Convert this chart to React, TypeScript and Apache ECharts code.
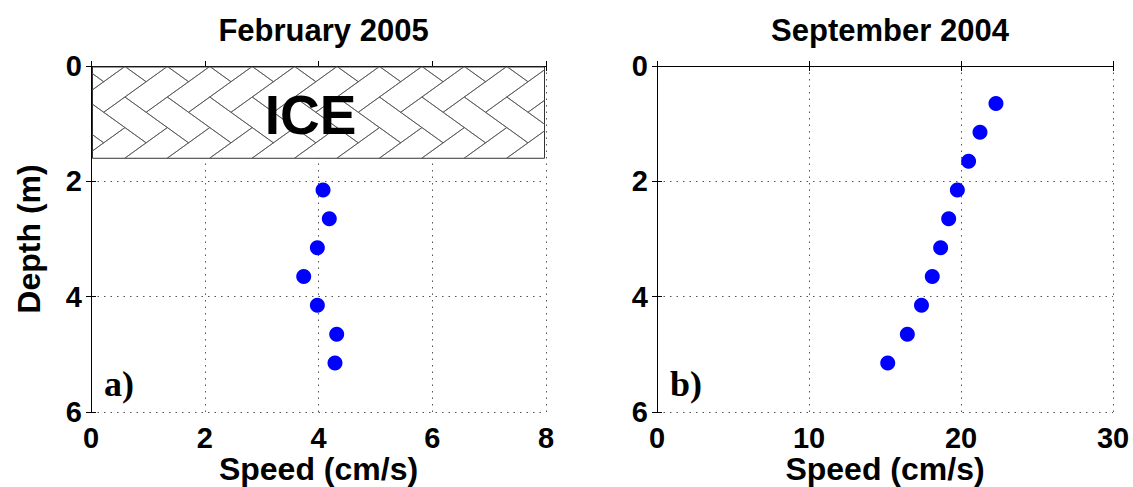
import React, { useEffect, useRef } from "react";
import * as echarts from "echarts";

const febDepth = [2.15, 2.65, 3.15, 3.65, 4.15, 4.65, 5.15];
const febSpeed = [4.08, 4.19, 3.98, 3.74, 3.98, 4.32, 4.29];
const sepDepth = [0.65, 1.15, 1.65, 2.15, 2.65, 3.15, 3.65, 4.15, 4.65, 5.15];
const sepSpeed = [22.3, 21.25, 20.5, 19.76, 19.19, 18.66, 18.11, 17.4, 16.47, 15.18];
const iceBand = [[0, 0, 8, 1.6]];
const titles = ["February 2005", "September 2004"];
const panelLabels = ["a)", "b)"];
const xNames = ["Speed (cm/s)", "Speed (cm/s)"];

const FONT = "'Liberation Sans', Arial, Helvetica, sans-serif";
const SERIF = "'Liberation Serif', 'Times New Roman', serif";

function clipSeg(x1: number, y1: number, x2: number, y2: number, xmin: number, ymin: number, xmax: number, ymax: number) {
  let t0 = 0, t1 = 1;
  const dx = x2 - x1, dy = y2 - y1;
  const p = [-dx, dx, -dy, dy];
  const q = [x1 - xmin, xmax - x1, y1 - ymin, ymax - y1];
  for (let i = 0; i < 4; i++) {
    if (p[i] === 0) {
      if (q[i] < 0) return null;
    } else {
      const t = q[i] / p[i];
      if (p[i] < 0) { if (t > t1) return null; if (t > t0) t0 = t; }
      else { if (t < t0) return null; if (t < t1) t1 = t; }
    }
  }
  return [x1 + t0 * dx, y1 + t0 * dy, x1 + t1 * dx, y1 + t1 * dy];
}

function renderIce(params: any, api: any) {
  const a = api.coord([api.value(0), api.value(1)]);
  const b = api.coord([api.value(2), api.value(3)]);
  const xmin = Math.min(a[0], b[0]) + 1.5, xmax = Math.max(a[0], b[0]) - 1.5;
  const ymin = Math.min(a[1], b[1]) + 1, ymax = Math.max(a[1], b[1]);
  const s = 30, k = 0.72, r2 = Math.SQRT2;
  const ox = xmin - 10, oy = ymin + 30;
  const tf = (u: number, v: number) => [ox + ((u + v) / r2) * s, oy + ((v - u) / r2) * s * k];
  const children: any[] = [
    { type: "rect", shape: { x: xmin, y: ymin, width: xmax - xmin, height: ymax - ymin }, style: { fill: "#fff", stroke: "#333", lineWidth: 1 } },
  ];
  const bricks: number[][] = [];
  for (let i = -25; i <= 25; i++) {
    for (let j = -10; j <= 10; j++) {
      const tx = i + 2 * j, ty = i - 2 * j;
      bricks.push([tx, ty, tx + 2, ty + 1]);
      bricks.push([tx, ty + 1, tx + 1, ty + 3]);
    }
  }
  for (const [u0, v0, u1, v1] of bricks) {
    const corners = [tf(u0, v0), tf(u1, v0), tf(u1, v1), tf(u0, v1)];
    for (let c = 0; c < 4; c++) {
      const p = corners[c], q = corners[(c + 1) % 4];
      const seg = clipSeg(p[0], p[1], q[0], q[1], xmin, ymin, xmax, ymax);
      if (seg && (Math.abs(seg[2] - seg[0]) + Math.abs(seg[3] - seg[1]) > 0.5)) {
        children.push({ type: "line", shape: { x1: seg[0], y1: seg[1], x2: seg[2], y2: seg[3] }, style: { stroke: "#555", lineWidth: 0.8 } });
      }
    }
  }
  children.push({
    type: "text",
    style: { text: "ICE", x: (xmin + xmax) / 2 - 8, y: (ymin + ymax) / 2 + 2, align: "center", verticalAlign: "middle", font: `bold 55px ${FONT}`, fill: "#000" },
  });
  return { type: "group", children };
}

export default function App() {
  const ref = useRef<HTMLDivElement>(null);
  useEffect(() => {
    const chart = echarts.init(ref.current!, undefined, { renderer: "svg" });
    const grids = [
      { left: 91, top: 66, width: 455, height: 346, outerBoundsMode: "none", containLabel: false },
      { left: 657, top: 66, width: 456, height: 346, outerBoundsMode: "none", containLabel: false },
    ];
    const dotted = { show: true, lineStyle: { color: "#555", type: [1.5, 5], width: 1 } };
    const tickLabel = { fontFamily: FONT, fontWeight: "bold" as const, fontSize: 29, lineHeight: 29, color: "#000" };
    const xRanges = [[0, 8, 2], [0, 30, 10]];
    const xAxis: any[] = [];
    const yAxis: any[] = [];
    [0, 1].forEach((g) => {
      const [mn, mx, iv] = xRanges[g];
      xAxis.push({
        gridIndex: g, type: "value", min: mn, max: mx, interval: iv, position: "bottom",
        axisLine: { show: true, lineStyle: { color: "#000", width: 1 } },
        axisTick: { show: true, inside: true, length: 5, lineStyle: { color: "#000" } },
        axisLabel: { ...tickLabel, margin: 11 },
        splitLine: dotted,
      });
      xAxis.push({
        gridIndex: g, type: "value", min: mn, max: mx, interval: iv, position: "top",
        axisLine: { show: true, lineStyle: { color: "#000", width: 1 } },
        axisTick: { show: true, inside: true, length: 5, lineStyle: { color: "#000" } },
        axisLabel: { show: false }, splitLine: { show: false },
      });
      yAxis.push({
        gridIndex: g, type: "value", min: 0, max: 6, interval: 2, inverse: true, position: "left",
        name: g === 0 ? "Depth (m)" : "", nameLocation: "middle", nameGap: 46,
        nameTextStyle: { fontFamily: FONT, fontWeight: "bold", fontSize: 32, color: "#000" },
        axisLine: { show: true, lineStyle: { color: "#000", width: 1 } },
        axisTick: { show: true, inside: true, length: 5, lineStyle: { color: "#000" } },
        axisLabel: { ...tickLabel, margin: 9 },
        splitLine: dotted,
      });
      yAxis.push({
        gridIndex: g, type: "value", min: 0, max: 6, interval: 2, inverse: true, position: "right",
        axisLine: { show: true, lineStyle: { color: "#000", width: 1 } },
        axisTick: { show: true, inside: true, length: 5, lineStyle: { color: "#000" } },
        axisLabel: { show: false }, splitLine: { show: false },
      });
    });
    const graphics: any[] = [];
    panelLabels.forEach((t, i) => {
      graphics.push({
        type: "text",
        left: grids[i].left + 13,
        top: 366,
        z: 10,
        style: { text: t, font: `bold 36px ${SERIF}`, fill: "#000" },
      });
    });
    xNames.forEach((t, i) => {
      graphics.push({
        type: "text",
        x: grids[i].left + grids[i].width / 2,
        y: 469,
        z: 10,
        style: { text: t, font: `bold 32px ${FONT}`, lineHeight: 32, fill: "#000", align: "center", verticalAlign: "middle" },
      });
    });
    chart.setOption({
      animation: false,
      backgroundColor: "#fff",
      title: titles.map((t, i) => ({
        text: t,
        left: grids[i].left + grids[i].width / 2,
        textAlign: "center",
        top: 10,
        textStyle: { fontFamily: FONT, fontWeight: "bold", fontSize: 31, color: "#000" },
      })),
      grid: grids,
      xAxis,
      yAxis,
      graphic: graphics,
      series: [
        {
          type: "custom", xAxisIndex: 0, yAxisIndex: 0, data: iceBand, renderItem: renderIce, z: 1,
        },
        {
          type: "scatter", xAxisIndex: 0, yAxisIndex: 0, symbol: "circle", symbolSize: 15,
          itemStyle: { color: "#0000ff", opacity: 1 }, z: 5,
          data: febSpeed.map((v, i) => [v, febDepth[i]]),
        },
        {
          type: "scatter", xAxisIndex: 2, yAxisIndex: 2, symbol: "circle", symbolSize: 15,
          itemStyle: { color: "#0000ff", opacity: 1 }, z: 5,
          data: sepSpeed.map((v, i) => [v, sepDepth[i]]),
        },
      ],
    });
    return () => chart.dispose();
  }, []);
  return <div ref={ref} style={{ position: "fixed", left: 0, top: 0, width: 1133, height: 487 }} />;
}
